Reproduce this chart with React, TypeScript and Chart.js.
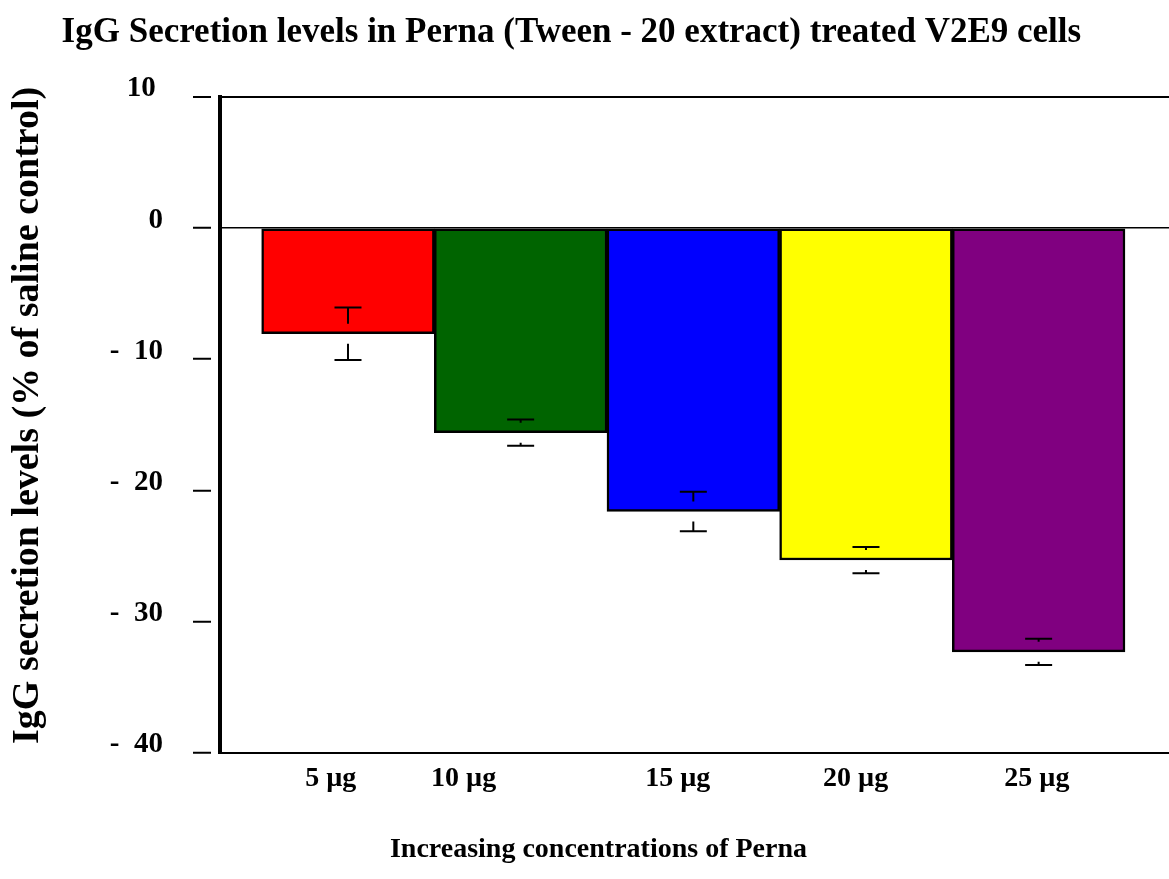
import React, { useEffect, useRef } from "react";
import { Chart, registerables } from "chart.js";

Chart.register(...registerables);

// ---- data ----
const categories = ["5 µg", "10 µg", "15 µg", "20 µg", "25 µg"];
const barPositions = [0, 1, 2, 3, 4];
const values = [-8.05, -15.6, -21.6, -25.3, -32.3];
const errors = [2.0, 1.0, 1.5, 1.0, 1.0];
// where each category label sits on the x scale (reference places them irregularly)
const labelPositions = [-0.1, 0.67, 1.91, 2.94, 3.99];
const yTickValues = [10, 0, -10, -20, -30, -40];
const barColors = ["#ff0000", "#006400", "#0000ff", "#ffff00", "#800080"];

const titleText = "IgG Secretion levels in Perna (Tween - 20 extract) treated V2E9 cells   ";
const xTitleText = "    Increasing concentrations of Perna";
const yTitleText = "  IgG secretion levels (% of saline control)";

const FONT = "'Liberation Serif', 'Times New Roman', serif";
const X_MIN = -0.7413;
const X_MAX = 4.755;

const errorBarPlugin = {
  id: "errorBars",
  afterDatasetsDraw(chart: any) {
    const meta = chart.getDatasetMeta(0);
    const y = chart.scales.y;
    const ctx = chart.ctx;
    ctx.save();
    ctx.strokeStyle = "#000";
    ctx.lineWidth = 2;
    const half = 13.5;
    const gap = 10;
    meta.data.forEach((bar: any, i: number) => {
      const v = values[i];
      const e = errors[i];
      const yv = y.getPixelForValue(v);
      const yHi = y.getPixelForValue(v + e);
      const yLo = y.getPixelForValue(v - e);
      const x = bar.x;
      ctx.beginPath();
      ctx.moveTo(x - half, yHi);
      ctx.lineTo(x + half, yHi);
      ctx.moveTo(x - half, yLo);
      ctx.lineTo(x + half, yLo);
      if (yv - gap > yHi) {
        ctx.moveTo(x, yHi);
        ctx.lineTo(x, yv - gap);
      }
      if (yv + gap < yLo) {
        ctx.moveTo(x, yv + gap);
        ctx.lineTo(x, yLo);
      }
      ctx.stroke();
    });
    ctx.restore();
  },
};

export default function App() {
  const ref = useRef<HTMLCanvasElement | null>(null);

  useEffect(() => {
    document.body.style.margin = "0";
    const canvas = ref.current;
    if (!canvas) return;
    const chart = new Chart(canvas, {
      type: "bar",
      data: {
        datasets: [
          {
            data: barPositions.map((x, i) => ({ x, y: values[i] })),
            backgroundColor: barColors,
            borderColor: "#000",
            borderWidth: 2.5,
            borderSkipped: false,
            barPercentage: 1,
            categoryPercentage: 1,
            xAxisID: "x",
            yAxisID: "y",
          } as any,
        ],
      },
      options: {
        animation: false,
        responsive: false,
        layout: { padding: 0 },
        plugins: {
          legend: { display: false },
          tooltip: { enabled: false },
          title: {
            display: true,
            text: titleText,
            color: "#000",
            font: { family: FONT, size: 35, weight: "bold" },
            padding: { top: 12, bottom: 42.8 },
          },
          subtitle: {
            display: true,
            position: "bottom",
            text: xTitleText,
            color: "#000",
            font: { family: FONT, size: 28, weight: "bold" },
            padding: { top: 0, bottom: 12.2 },
          },
        },
        scales: {
          x: {
            type: "linear",
            display: false,
            offset: false,
            min: X_MIN,
            max: X_MAX,
            afterBuildTicks: (s: any) => {
              s.ticks = barPositions.map((v) => ({ value: v }));
            },
          },
          xl: {
            type: "linear",
            position: "bottom",
            offset: false,
            min: X_MIN,
            max: X_MAX,
            afterBuildTicks: (s: any) => {
              s.ticks = labelPositions.map((v) => ({ value: v }));
            },
            afterFit: (s: any) => {
              s.height = 80.3;
            },
            ticks: {
              autoSkip: false,
              maxRotation: 0,
              minRotation: 0,
              padding: 9,
              color: "#000",
              font: { family: FONT, size: 28, weight: "bold" },
              callback: (_v: any, i: number) => categories[i],
            },
            grid: { drawOnChartArea: false, drawTicks: false, offset: false },
            border: { color: "#000", width: 2 },
          },
          y: {
            type: "linear",
            min: -40,
            max: 10,
            afterBuildTicks: (s: any) => {
              s.ticks = yTickValues.map((v) => ({ value: v }));
            },
            afterFit: (s: any) => {
              s.width = 220;
            },
            ticks: {
              padding: 30,
              labelOffset: -8,
              color: "#000",
              font: { family: FONT, size: 29, weight: "bold" },
              callback: (v: any) => (v > 0 ? v + " " : v < 0 ? "-  " + Math.abs(v) : String(v)),
            },
            grid: {
              color: (c: any) => (c.tick && (c.tick.value === 0 || c.tick.value === 10) ? "#000" : "rgba(0,0,0,0)"),
              lineWidth: (c: any) => (c.tick && c.tick.value === 10 ? 2 : 1.5),
              tickColor: "#000",
              tickWidth: 2,
              tickLength: 27,
              tickBorderDash: [18, 40],
            },
            border: { color: "#000", width: 4 },
            title: {
              display: true,
              text: yTitleText,
              color: "#000",
              font: { family: FONT, size: 38, weight: "bold" },
              padding: { top: 5, bottom: 0 },
            },
          },
        },
      } as any,
      plugins: [errorBarPlugin],
    });
    return () => chart.destroy();
  }, []);

  return <canvas ref={ref} width={1169} height={879} style={{ display: "block" }} />;
}
